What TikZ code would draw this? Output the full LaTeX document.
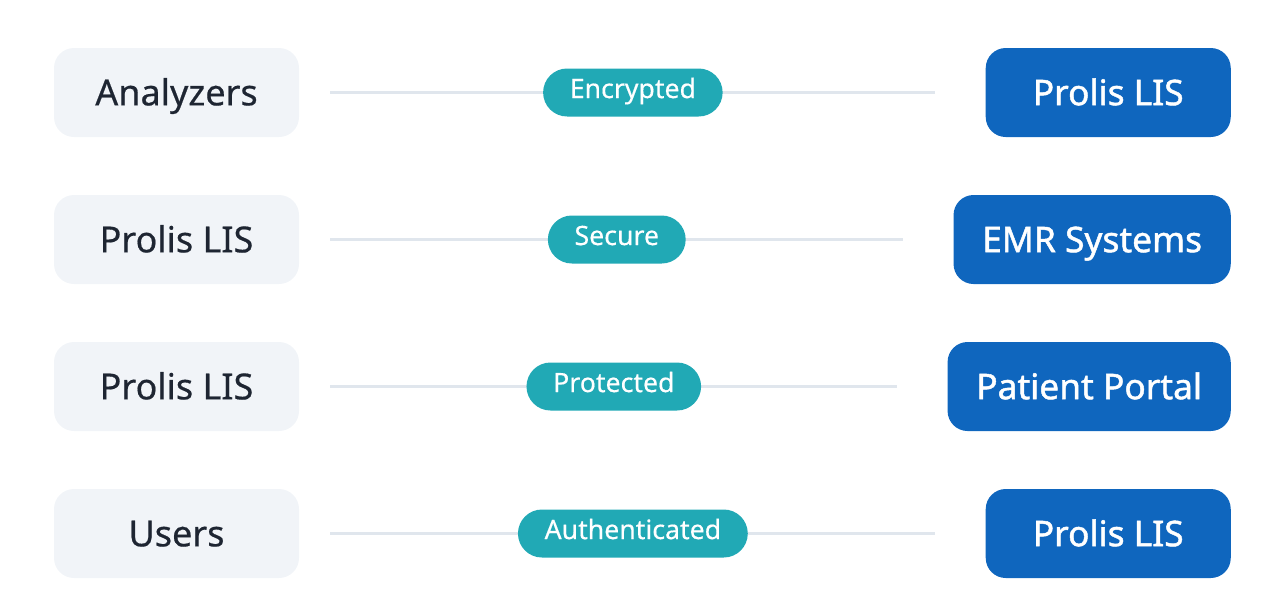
\documentclass[tikz,border=0pt]{standalone}
\usepackage{fontspec}
\setmainfont{Noto Sans}
\newfontfamily\medfont[FakeBold=0.5]{Noto Sans}
\newfontfamily\semifont[FakeBold=1.3]{Noto Sans}
\newfontfamily\pillfont[FakeBold=0.4]{Noto Sans}
\usetikzlibrary{calc}
\definecolor{leftfill}{HTML}{F1F4F8}
\definecolor{lefttext}{HTML}{1E2532}
\definecolor{linecol}{HTML}{E0E6ED}
\definecolor{pillcol}{HTML}{21A9B5}
\definecolor{rightfill}{HTML}{0F66BE}
\tikzset{
  srcbox/.style={fill=leftfill, rounded corners=15pt, minimum width=183.75pt, minimum height=66.75pt,
    inner xsep=0pt, text=lefttext, text height=19.3pt, text depth=0pt,
    font=\medfont\fontsize{27}{32}\selectfont},
  dstbox/.style={fill=rightfill, rounded corners=15pt, minimum width=183.75pt, minimum height=66.75pt,
    inner xsep=21.5pt, text=white, text height=19pt, text depth=0pt, anchor=east,
    font=\semifont\fontsize{26.5}{32}\selectfont},
  pill/.style={fill=pillcol, rounded corners=18pt, minimum height=36pt, inner xsep=20pt,
    text=white, text height=14.3pt, text depth=6pt,
    font=\pillfont\fontsize{20}{24}\selectfont},
  link/.style={draw=linecol, line width=2.25pt}
}
\begin{document}
\begin{tikzpicture}[x=0.75pt,y=-0.75pt]
\useasboundingbox (0,0) rectangle (1270,612);
\foreach \i/\src/\dst/\lab/\y in {1/Analyzers/Prolis LIS/Encrypted/92.5,
  2/Prolis LIS/EMR Systems/Secure/239.5,
  3/Prolis LIS/Patient Portal/Protected/386.5,
  4/Users/Prolis LIS/Authenticated/533.5}{
  \node[srcbox] (s\i) at (176.5,\y) {\src};
  \node[dstbox] (d\i) at (1231,\y) {\dst};
  \coordinate (a\i) at ([xshift=23.25pt]s\i.east);
  \coordinate (b\i) at ([xshift=-37.5pt]d\i.west);
  \draw[link] (a\i) -- (b\i);
  \node[pill] (p\i) at ($(a\i)!0.5!(b\i)$) {\lab};
}
\end{tikzpicture}
\end{document}
